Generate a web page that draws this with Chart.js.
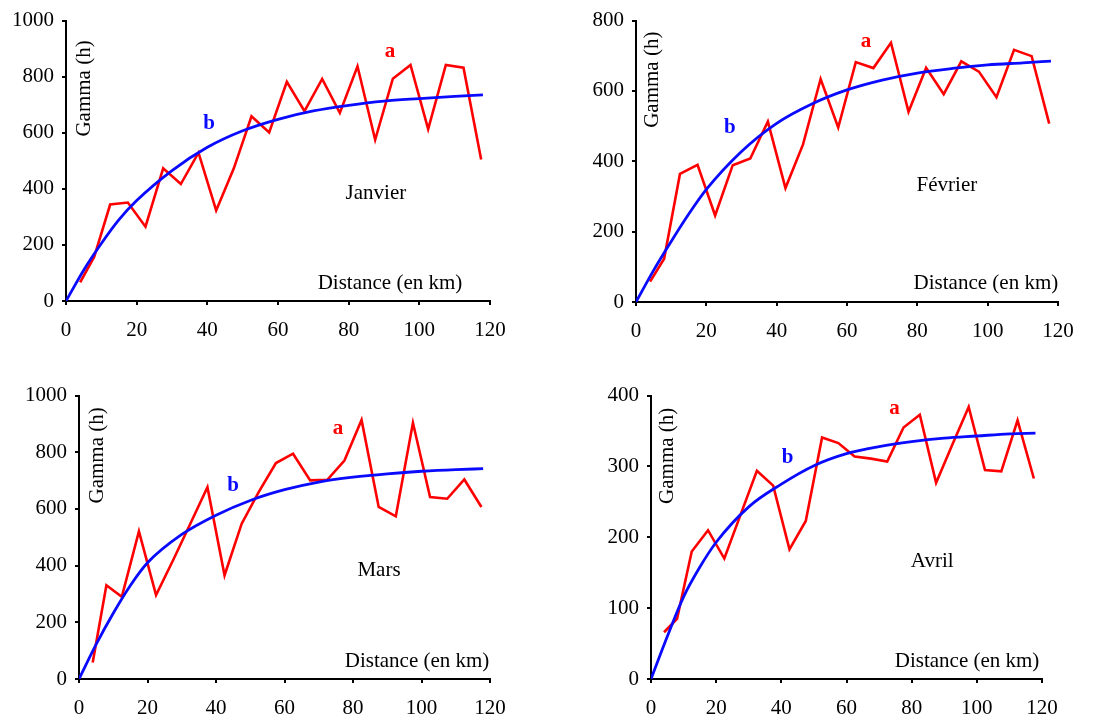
<!DOCTYPE html>
<html>
<head>
<meta charset="utf-8">
<script src="https://cdn.jsdelivr.net/npm/chart.js@4.4.1/dist/chart.umd.min.js"></script>
<style>
  html, body { margin: 0; padding: 0; background: #fff; }
  #page { position: relative; width: 1099px; height: 722px; overflow: hidden; }
  .panel { position: absolute; }
</style>
</head>
<body>
<div id="page">
  <div class="panel" style="left:0;top:0;width:545px;height:350px"><canvas id="c1"></canvas></div>
  <div class="panel" style="left:560px;top:0;width:539px;height:350px"><canvas id="c2"></canvas></div>
  <div class="panel" style="left:0;top:375px;width:545px;height:347px"><canvas id="c3"></canvas></div>
  <div class="panel" style="left:560px;top:375px;width:539px;height:347px"><canvas id="c4"></canvas></div>
</div>
<script>
// distance classes of the experimental variogram (km)
const lagDist = [4, 8, 12.5, 17.5, 22.5, 27.5, 32.5, 37.5, 42.5, 47.5, 52.5, 57.5,
  62.5, 67.5, 72.5, 77.5, 82.5, 87.5, 92.5, 97.5, 102.5, 107.5, 112.5, 117.5];

// experimental gamma (a)
const janvierExp = [66, 158, 344, 351, 265, 473, 417, 529, 323, 473, 659, 601,
  782, 677, 792, 671, 837, 575, 793, 842, 613, 842, 832, 505];
const fevrierExp = [58, 123, 364, 390, 246, 389, 408, 513, 324, 448, 634, 496,
  682, 665, 737, 541, 666, 591, 684, 655, 582, 717, 699, 507];
const marsExp = [58, 331, 290, 521, 296, 420, 548, 677, 366, 548, 660, 762,
  795, 701, 703, 771, 914, 607, 574, 904, 642, 636, 704, 607];
const avrilExp = [66, 85, 180, 210, 170, 232, 294, 273, 183, 223, 341, 333,
  314, 311, 307, 355, 373, 277, 331, 384, 295, 293, 365, 283];

// fitted model (b)
const modelDist = [0, 5, 10, 15, 20, 30, 40, 50, 60, 70, 80, 90, 100, 110, 118];
const janvierModel = [0, 110, 205, 290, 358, 465, 548, 607, 648, 678, 698, 713, 722, 730, 735];
const fevrierModel = [0, 90, 172, 250, 320, 428, 508, 563, 603, 631, 651, 664, 674, 680, 685];
const marsModel = [0, 122, 232, 330, 410, 510, 578, 630, 668, 695, 712, 724, 733, 739, 742];
const avrilModel = [0, 60, 116, 158, 193, 243, 275, 301, 318, 328, 335, 340, 343, 346, 347];

const xTicks = [0, 20, 40, 60, 80, 100, 120];

const SERIF = "'Liberation Serif', 'Times New Roman', Times, serif";

// draws the small text labels inside each plot (data coordinates)
const notesPlugin = {
  id: "notes",
  afterDatasetsDraw(chart, args, opts) {
    const ctx = chart.ctx;
    const xs = chart.scales.x, ys = chart.scales.y;
    (opts.items || []).forEach(n => {
      ctx.save();
      ctx.fillStyle = n.color || "#000";
      ctx.font = (n.bold ? "bold " : "") + (n.size || 21) + "px " + SERIF;
      ctx.textAlign = "center";
      ctx.textBaseline = "middle";
      ctx.translate(xs.getPixelForValue(n.x), ys.getPixelForValue(n.y));
      if (n.rotate) ctx.rotate(-Math.PI / 2);
      ctx.fillText(n.text, 0, 0);
      ctx.restore();
    });
  }
};

function pairs(xs, ys) {
  return xs.map((x, i) => ({ x: x, y: ys[i] }));
}

function makePanel(id, cfg) {
  new Chart(document.getElementById(id), {
    type: "line",
    data: {
      datasets: [
        {
          data: pairs(modelDist, cfg.model),
          borderColor: "#0a0aff",
          borderWidth: 2.8,
          pointRadius: 0,
          cubicInterpolationMode: "monotone",
          order: 0,
        },
        {
          data: pairs(lagDist, cfg.exp),
          borderColor: "#ff0000",
          borderWidth: 2.6,
          pointRadius: 0,
          tension: 0,
          order: 1,
        },
      ],
    },
    options: {
      responsive: true,
      maintainAspectRatio: false,
      animation: false,
      events: [],
      layout: { padding: cfg.pad },
      scales: {
        x: {
          type: "linear",
          min: 0,
          max: 120,
          afterBuildTicks: s => { s.ticks = xTicks.map(v => ({ value: v })); },
          afterFit: s => { s.height = 45; },
          ticks: { color: "#000", font: { family: SERIF, size: 21 }, padding: 13, maxRotation: 0 },
          grid: { drawOnChartArea: false, drawTicks: true, tickLength: 4, color: "#000", lineWidth: 2 },
          border: { display: true, color: "#000", width: 2 },
        },
        y: {
          min: 0,
          max: cfg.yMax,
          ticks: {
            stepSize: cfg.yStep,
            color: "#000",
            font: { family: SERIF, size: 21 },
            padding: 8,
            callback: v => String(v),
          },
          afterFit: s => { s.width = cfg.yWidth; },
          grid: { drawOnChartArea: false, drawTicks: true, tickLength: 4, color: "#000", lineWidth: 2 },
          border: { display: true, color: "#000", width: 2 },
        },
      },
      plugins: {
        legend: { display: false },
        tooltip: { enabled: false },
        notes: { items: cfg.notes },
      },
    },
    plugins: [notesPlugin],
  });
}

function notes(n) {
  return [
    { text: "Gamma (h)", x: n.gamma[0], y: n.gamma[1], rotate: true },
    { text: "a", x: n.a[0], y: n.a[1], color: "#ff0000", bold: true },
    { text: "b", x: n.b[0], y: n.b[1], color: "#0a0aff", bold: true },
    { text: n.month, x: n.m[0], y: n.m[1] },
    { text: "Distance (en km)", x: n.d[0], y: n.d[1] },
  ];
}

makePanel("c1", {
  exp: janvierExp, model: janvierModel, yMax: 1000, yStep: 200, yWidth: 66,
  pad: { left: 0, top: 15, right: 55, bottom: 4 },
  notes: notes({ month: "Janvier", gamma: [5.1, 758], a: [91.7, 891], b: [40.5, 632], m: [87.7, 382], d: [91.7, 63] }),
});
makePanel("c2", {
  exp: fevrierExp, model: fevrierModel, yMax: 800, yStep: 200, yWidth: 76,
  pad: { left: 0, top: 15, right: 41, bottom: 3 },
  notes: notes({ month: "Février", gamma: [4.8, 632], a: [65.4, 741], b: [26.7, 495], m: [88.4, 332], d: [99.5, 52] }),
});
makePanel("c3", {
  exp: marsExp, model: marsModel, yMax: 1000, yStep: 200, yWidth: 79,
  pad: { left: 0, top: 19, right: 55, bottom: -2 },
  notes: notes({ month: "Mars", gamma: [5.3, 789], a: [75.6, 884], b: [45, 683], m: [87.6, 384], d: [98.7, 63] }),
});
makePanel("c4", {
  exp: avrilExp, model: avrilModel, yMax: 400, yStep: 100, yWidth: 91,
  pad: { left: 0, top: 19, right: 57, bottom: -2 },
  notes: notes({ month: "Avril", gamma: [5.2, 315], a: [74.7, 382], b: [41.9, 313], m: [86.3, 166], d: [97, 25] }),
});
</script>
</body>
</html>
